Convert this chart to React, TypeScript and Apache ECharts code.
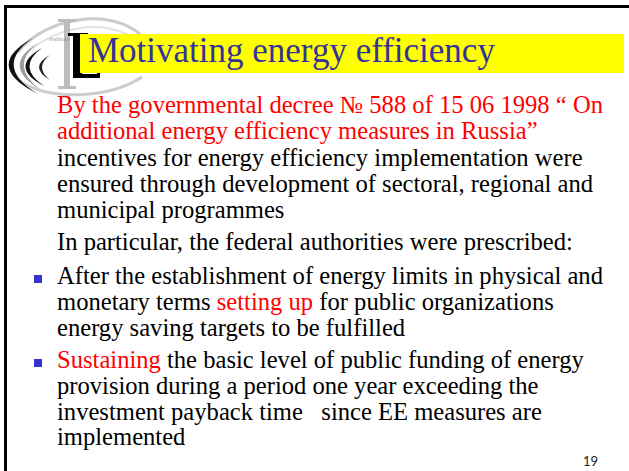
import React, { useEffect, useRef } from "react";
import * as echarts from "echarts";

// ---- slide content ----
const TITLE = "Motivating energy efficiency";
const INTRO_LINES = [
  "{r|By the governmental decree № 588 of 15 06 1998 “ On}",
  "{r|additional energy efficiency measures in Russia”}",
  "incentives for energy efficiency implementation were",
  "ensured through development of sectoral, regional and",
  "municipal programmes",
];
const LEAD_LINE = "In particular, the federal authorities were prescribed:";
const BULLETS = [
  [
    "After the establishment of energy limits in physical and",
    "monetary terms {r|setting up} for public organizations",
    "energy saving targets to be fulfilled",
  ],
  [
    "{r|Sustaining} the basic level of public funding of energy",
    "provision during a period one year exceeding the",
    "investment payback time   since EE measures are",
    "implemented",
  ],
];
const PAGE_NUMBER = "19";
const LOGO_CAPTION = "Institute";

// ---- logo shapes ----
echarts.graphic.registerShape(
  "crescentA",
  echarts.graphic.extendPath("M33 38 Q-18 66 38 94 Q-8 66 33 38 Z", {})
);
echarts.graphic.registerShape(
  "crescentB",
  echarts.graphic.extendPath("M42 48 Q8 67 44 86 Q16 67 42 48 Z", {})
);
echarts.graphic.registerShape(
  "crescentC",
  echarts.graphic.extendPath("M50 55 Q28 67 50 80 Q34 67 50 55 Z", {})
);
echarts.graphic.registerShape(
  "crescentGray",
  echarts.graphic.extendPath("M38 43 Q0 66 41 90 Q8 66 38 43 Z", {})
);

const SERIF = "'Liberation Serif', 'Times New Roman', serif";
const BODY_FS = 24.6;
const CENTRAL = 0.3375; // central baseline offset (em) for Liberation Serif

function textLine(text: string, x: number, baseline: number, color: string) {
  const hasRich = text.indexOf("{r|") >= 0;
  const style: any = {
    text,
    fill: color,
    fontFamily: SERIF,
    fontSize: BODY_FS,
    verticalAlign: "middle",
    align: "left",
  };
  if (hasRich) {
    style.rich = {
      r: {
        fill: "#ff0000",
        fontFamily: SERIF,
        fontSize: BODY_FS,
      },
    };
  }
  return {
    type: "text",
    x,
    y: baseline - CENTRAL * BODY_FS,
    style,
  };
}

export default function App() {
  const ref = useRef<HTMLDivElement>(null);
  useEffect(() => {
    if (!ref.current) return;
    const chart = echarts.init(ref.current, null, { renderer: "svg" });
    const elements: any[] = [];

    // frame
    elements.push({ type: "rect", shape: { x: 4, y: 5, width: 3, height: 466 }, style: { fill: "#000" } });
    elements.push({ type: "rect", shape: { x: 4, y: 5, width: 625, height: 3 }, style: { fill: "#000" } });

    // logo: eye outline
    elements.push({
      type: "bezierCurve",
      shape: { x1: 18, y1: 52, cpx1: 45, cpy1: 18, cpx2: 110, cpy2: 6, x2: 142, y2: 36 },
      style: { stroke: "#cccccc", lineWidth: 3, fill: null },
    });
    elements.push({
      type: "bezierCurve",
      shape: { x1: 24, y1: 56, cpx1: 50, cpy1: 28, cpx2: 105, cpy2: 16, x2: 136, y2: 40 },
      style: { stroke: "#e2e2e2", lineWidth: 2, fill: null },
    });
    elements.push({
      type: "bezierCurve",
      shape: { x1: 18, y1: 80, cpx1: 50, cpy1: 102, cpx2: 110, cpy2: 98, x2: 142, y2: 77 },
      style: { stroke: "#cccccc", lineWidth: 3, fill: null },
    });
    // crescents
    elements.push({ type: "crescentA", x: 0, y: 0, style: { fill: "#111" } });
    elements.push({ type: "crescentGray", x: 0, y: 0, style: { fill: "#9a9a9a" } });
    elements.push({ type: "crescentB", x: 0, y: 0, style: { fill: "#111" } });
    elements.push({ type: "crescentC", x: 0, y: 0, style: { fill: "#222" } });
    // gray I
    elements.push({ type: "rect", shape: { x: 64, y: 20, width: 6, height: 68 }, style: { fill: "#bdbdbd" } });
    elements.push({ type: "rect", shape: { x: 58, y: 19, width: 18, height: 3 }, style: { fill: "#bdbdbd" } });
    elements.push({ type: "rect", shape: { x: 58, y: 86, width: 18, height: 3 }, style: { fill: "#bdbdbd" } });
    elements.push({
      type: "text",
      x: 49,
      y: 39,
      style: { text: LOGO_CAPTION, fill: "#888", fontFamily: "DejaVu Sans", fontSize: 5, verticalAlign: "middle" },
    });
    // black L
    elements.push({ type: "rect", shape: { x: 73, y: 33, width: 9, height: 45 }, style: { fill: "#000" } });
    elements.push({ type: "rect", shape: { x: 68, y: 33, width: 20, height: 3 }, style: { fill: "#000" } });
    elements.push({ type: "rect", shape: { x: 73, y: 74, width: 27, height: 4 }, style: { fill: "#000" } });
    elements.push({ type: "rect", shape: { x: 97, y: 68, width: 3, height: 10 }, style: { fill: "#000" } });

    // title band
    elements.push({ type: "rect", shape: { x: 80, y: 34, width: 544, height: 39 }, style: { fill: "#ffff00" } });
    elements.push({
      type: "text",
      x: 88,
      y: 62 - CENTRAL * 35,
      style: {
        text: TITLE,
        fill: "#333399",
        fontFamily: SERIF,
        fontSize: 35,
        verticalAlign: "middle",
        align: "left",
      },
    });

    // intro
    const BODY_X = 57;
    INTRO_LINES.forEach((t, i) => {
      elements.push(textLine(t, BODY_X, 113 + i * 26.25, "#000"));
    });
    elements.push(textLine(LEAD_LINE, BODY_X, 250, "#000"));

    // bullets
    const bulletStarts = [284, 368];
    const STEP = 25.7;
    BULLETS.forEach((lines, b) => {
      const base = bulletStarts[b];
      elements.push({
        type: "rect",
        shape: { x: 34, y: base - 9, width: 8, height: 8 },
        style: { fill: "#3333cc" },
      });
      lines.forEach((t, i) => {
        elements.push(textLine(t, BODY_X, base + i * STEP, "#000"));
      });
    });

    // page number
    elements.push({
      type: "text",
      x: 583,
      y: 466 - 0.387 * 13,
      style: {
        text: PAGE_NUMBER,
        fill: "#222",
        fontFamily: "Lato",
        fontSize: 13,
        verticalAlign: "middle",
        align: "left",
      },
    });

    chart.setOption({
      animation: false,
      backgroundColor: "#ffffff",
      graphic: { elements },
    });
    return () => chart.dispose();
  }, []);
  return (
    <div
      ref={ref}
      style={{ position: "absolute", left: 0, top: 0, width: 629, height: 471, background: "#fff" }}
    />
  );
}
